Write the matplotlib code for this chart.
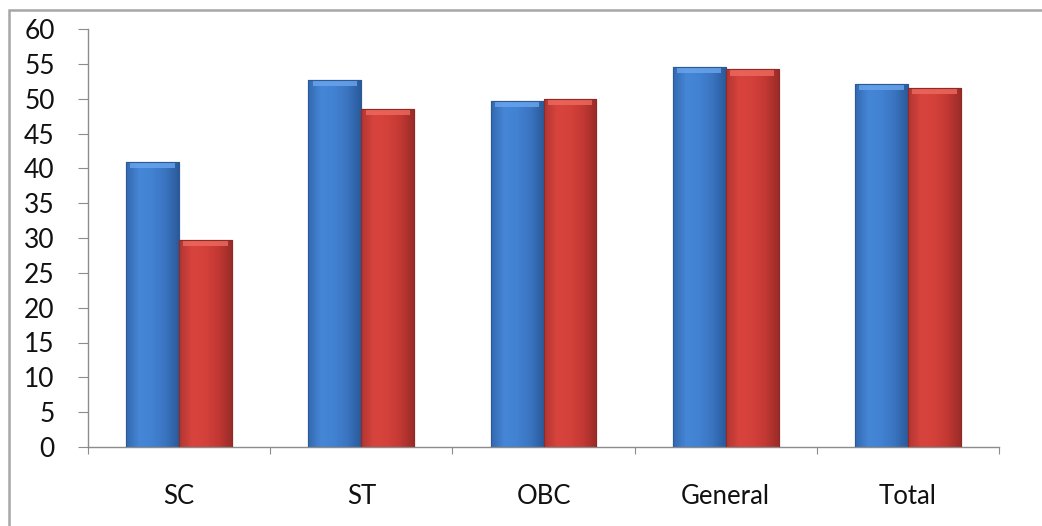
import matplotlib.pyplot as plt
import numpy as np
from matplotlib.colors import LinearSegmentedColormap
from matplotlib.patches import Rectangle

plt.rcParams['font.family'] = ['Lato', 'DejaVu Sans']

categories = ['SC', 'ST', 'OBC', 'General', 'Total']
series_blue = [40.9, 52.7, 49.7, 54.6, 52.1]
series_red = [29.7, 48.5, 50.0, 54.2, 51.5]

fig = plt.figure(figsize=(10.42, 5.26), dpi=100)
ax = fig.add_axes([88 / 1042, 1 - 447 / 526, (999 - 88) / 1042, (447 - 29) / 526])

x = np.arange(len(categories))
w = 0.29
bars_b = ax.bar(x - w / 2, series_blue, width=w, color='#3f7dcc', edgecolor='#2c5a96', linewidth=0.8, zorder=2)
bars_r = ax.bar(x + w / 2, series_red, width=w, color='#d23e38', edgecolor='#8f2a26', linewidth=0.8, zorder=2)

# cylinder-like shading across each bar, plus a lighter bevel on top
cmap_b = LinearSegmentedColormap.from_list('b', ['#3268b0', '#4686d6', '#4282d2', '#3a74c0', '#2a5a9a'])
cmap_r = LinearSegmentedColormap.from_list('r', ['#b03632', '#d8443d', '#d4413b', '#c23833', '#9a2c28'])
grad = np.linspace(0, 1, 256).reshape(1, -1)
for bars, cmap, top_col in [(bars_b, cmap_b, '#6aa6ee'), (bars_r, cmap_r, '#ef6a5e')]:
    for b in bars:
        x0, y0 = b.get_x(), b.get_y()
        bw, bh = b.get_width(), b.get_height()
        im = ax.imshow(grad, cmap=cmap, aspect='auto', extent=[x0, x0 + bw, y0, y0 + bh], zorder=2.5)
        im.set_clip_path(b)
        ax.add_patch(Rectangle((x0 + bw * 0.08, y0 + bh - 0.9), bw * 0.84, 0.9, facecolor=top_col,
                               edgecolor='none', alpha=0.8, zorder=3))
        ax.add_patch(Rectangle((x0, y0), bw, bh, facecolor='none', edgecolor=b.get_edgecolor(),
                               linewidth=0.8, zorder=3.5))

ax.set_xlim(-0.5, len(categories) - 0.5)
ax.set_ylim(0, 60)
ax.set_yticks(np.arange(0, 61, 5))
ax.set_xticks(np.arange(-0.5, len(categories), 1.0))
ax.set_xticklabels([])
ax.set_xticks(x, minor=True)
ax.set_xticklabels(categories, minor=True)

for s in ['top', 'right']:
    ax.spines[s].set_visible(False)
for s in ['left', 'bottom']:
    ax.spines[s].set_color('#8c8c8c')
    ax.spines[s].set_linewidth(1.0)

ax.tick_params(axis='y', direction='out', length=7, color='#8c8c8c', labelsize=19, pad=17,
               labelcolor='#111111')
ax.tick_params(axis='x', which='major', direction='out', length=5, color='#8c8c8c')
ax.tick_params(axis='x', which='minor', length=0, labelsize=18.5, pad=27, labelcolor='#111111')

# chart frame (only top and left edges are inside the picture)
fig.patches.append(Rectangle((9 / 1042, -0.1), 1.2, 1.1 - 10 / 526, transform=fig.transFigure,
                             facecolor='none', edgecolor='#a6a6a6', linewidth=1.8))

plt.savefig('out.png', dpi=100)
